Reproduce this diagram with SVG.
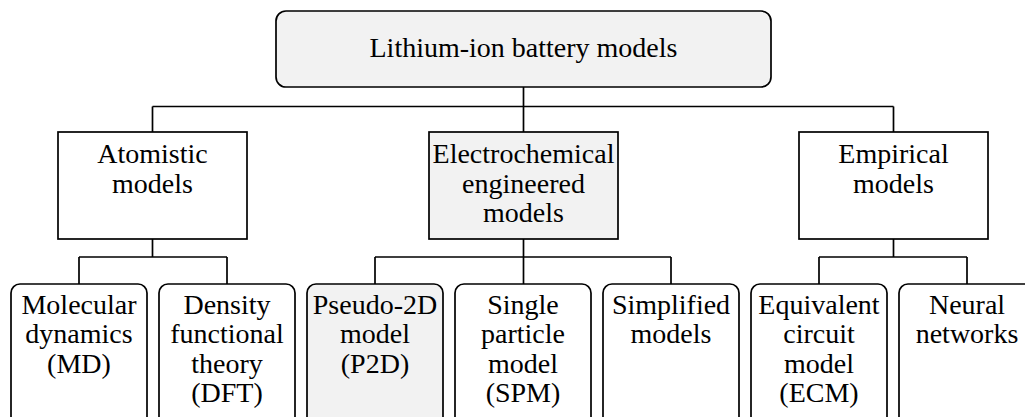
<svg xmlns="http://www.w3.org/2000/svg" width="1025" height="417" viewBox="0 0 1025 417">
<style>
.box{stroke:#000;stroke-width:1.7;fill:#fff}
.gray{fill:#f2f2f2}
.lbl{font-size:28px;fill:#000;text-anchor:middle}
.conn{stroke:#000;stroke-width:1.7;fill:none}
</style>
<rect width="1025" height="417" fill="#fff"/>
<g id="connectors" class="conn">
<path d="M523.5 87V132M152.5 106.5H893.5M152.5 106.5V132M893.5 106.5V132"/>
<path d="M152.5 239V257M79 257H227M79 257V284M227 257V284"/>
<path d="M523.5 239V284M375 257H671M375 257V284M671 257V284"/>
<path d="M893.5 239V257M819 257H967M819 257V284M967 257V284"/>
</g>
<g font-family="Liberation Serif, serif">
<g id="root">
<rect class="box gray" x="276" y="11" width="495" height="76" rx="10"/>
<text class="lbl" x="523.5" y="57">Lithium-ion battery models</text>
</g>
<g id="atomistic">
<rect class="box" x="58" y="132" width="189" height="107"/>
<text class="lbl" x="152.5" y="163">Atomistic</text>
<text class="lbl" x="152.5" y="192.5">models</text>
</g>
<g id="electrochemical">
<rect class="box gray" x="429" y="132" width="189" height="107"/>
<text class="lbl" x="523.5" y="163">Electrochemical</text>
<text class="lbl" x="523.5" y="192.5">engineered</text>
<text class="lbl" x="523.5" y="222">models</text>
</g>
<g id="empirical">
<rect class="box" x="799" y="132" width="189" height="107"/>
<text class="lbl" x="893.5" y="163">Empirical</text>
<text class="lbl" x="893.5" y="192.5">models</text>
</g>
<g id="md">
<rect class="box" x="11" y="284" width="136" height="150" rx="9"/>
<text class="lbl" x="79" y="314">Molecular</text>
<text class="lbl" x="79" y="343.3">dynamics</text>
<text class="lbl" x="79" y="372.6">(MD)</text>
</g>
<g id="dft">
<rect class="box" x="159" y="284" width="136" height="150" rx="9"/>
<text class="lbl" x="227" y="314">Density</text>
<text class="lbl" x="227" y="343.3">functional</text>
<text class="lbl" x="227" y="372.6">theory</text>
<text class="lbl" x="227" y="402">(DFT)</text>
</g>
<g id="p2d">
<rect class="box gray" x="307" y="284" width="136" height="150" rx="9"/>
<text class="lbl" x="375" y="314">Pseudo-2D</text>
<text class="lbl" x="375" y="343.3">model</text>
<text class="lbl" x="375" y="372.6">(P2D)</text>
</g>
<g id="spm">
<rect class="box" x="455" y="284" width="136" height="150" rx="9"/>
<text class="lbl" x="523" y="314">Single</text>
<text class="lbl" x="523" y="343.3">particle</text>
<text class="lbl" x="523" y="372.6">model</text>
<text class="lbl" x="523" y="402">(SPM)</text>
</g>
<g id="simplified">
<rect class="box" x="603" y="284" width="136" height="150" rx="9"/>
<text class="lbl" x="671" y="314">Simplified</text>
<text class="lbl" x="671" y="343.3">models</text>
</g>
<g id="ecm">
<rect class="box" x="751" y="284" width="136" height="150" rx="9"/>
<text class="lbl" x="819" y="314">Equivalent</text>
<text class="lbl" x="819" y="343.3">circuit</text>
<text class="lbl" x="819" y="372.6">model</text>
<text class="lbl" x="819" y="402">(ECM)</text>
</g>
<g id="neural">
<rect class="box" x="899" y="284" width="136" height="150" rx="9"/>
<text class="lbl" x="967" y="314">Neural</text>
<text class="lbl" x="967" y="343.3">networks</text>
</g>
</g>
</svg>
